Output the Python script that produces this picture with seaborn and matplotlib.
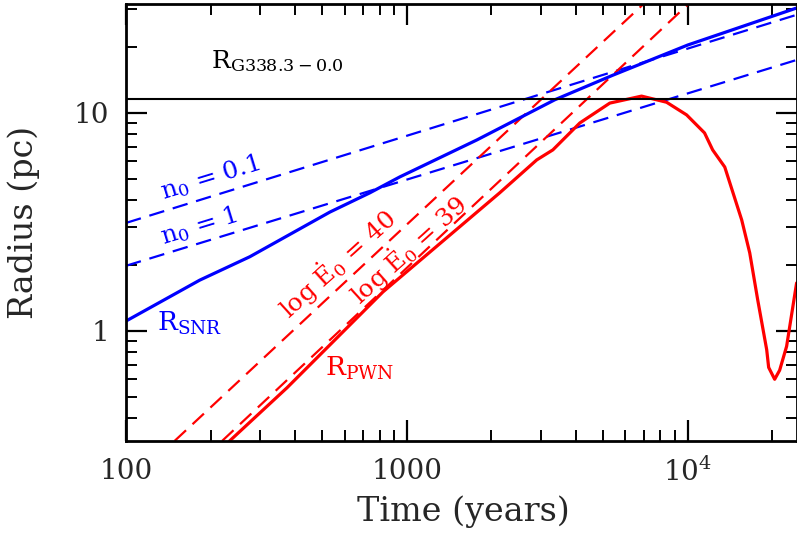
import matplotlib
matplotlib.use("Agg")
import matplotlib.pyplot as plt
import matplotlib.ticker as mticker
import numpy as np
import pandas as pd
import seaborn as sns

# SNR radius (solid blue)
snr_t = [100, 183, 276, 532, 738, 944, 1775, 3365, 5410, 10000, 24400]
snr_r = [1.11, 1.71, 2.19, 3.51, 4.30, 5.09, 7.52, 11.5, 14.9, 20.5, 30.3]

# Sedov-like power laws (dashed blue), read at both ends
n01_t = [100, 24400]
n01_r = [3.13, 28.2]
n1_t = [100, 24400]
n1_r = [1.99, 17.5]

# PWN radius (solid red)
pwn_t = [234, 374, 822, 2140, 2900, 3310, 4130, 5280, 6850, 8410, 9910, 11480,
         12270, 13550, 15570, 16630, 17750, 19110, 19420, 20400, 21250, 22500, 24420]
pwn_r = [0.313, 0.548, 1.51, 4.30, 6.09, 6.77, 9.0, 11.1, 11.95, 11.2, 9.8, 8.1,
         6.77, 5.65, 3.23, 2.28, 1.39, 0.82, 0.68, 0.60, 0.66, 0.85, 1.66]

# free-expansion PWN power laws (dashed red)
e40_t = [149, 7030]
e40_r = [0.313, 32.0]
e39_t = [220, 10160]
e39_r = [0.313, 32.0]

r_obs = 11.6

BLUE = "#0000ff"
RED = "#ff0000"
H = 544

sns.set_style("ticks")
plt.rcParams["font.family"] = ["DejaVu Serif", "DejaVu Sans"]
plt.rcParams["mathtext.fontset"] = "dejavuserif"

fig = plt.figure(figsize=(7.97, 5.44), dpi=100)
ax = fig.add_axes([126 / 797, 103 / 544, 671 / 797, 437 / 544])


def draw(t, r, color, lw, dashed=False):
    df = pd.DataFrame({"t": t, "r": r})
    sns.lineplot(data=df, x="t", y="r", color=color, lw=lw, ax=ax,
                 estimator=None, sort=False)
    if dashed:
        ax.lines[-1].set_dashes((7, 4))


draw(n01_t, n01_r, BLUE, 1.6, dashed=True)
draw(n1_t, n1_r, BLUE, 1.6, dashed=True)
draw(e40_t, e40_r, RED, 1.6, dashed=True)
draw(e39_t, e39_r, RED, 1.6, dashed=True)
draw(snr_t, snr_r, BLUE, 2.3)
draw(pwn_t, pwn_r, RED, 2.3)
ax.axhline(r_obs, color="black", lw=1.5)

ax.set_xscale("log")
ax.set_yscale("log")
ax.set_xlim(100, 24500)
ax.set_ylim(10 ** -0.505, 10 ** 1.5)

ax.xaxis.set_major_locator(mticker.FixedLocator([100, 1000, 10000]))
ax.xaxis.set_major_formatter(mticker.FixedFormatter(["100", "1000", r"$10^4$"]))
ax.xaxis.set_minor_locator(mticker.LogLocator(base=10, subs=np.arange(2, 10)))
ax.xaxis.set_minor_formatter(mticker.NullFormatter())
ax.yaxis.set_major_locator(mticker.FixedLocator([1, 10]))
ax.yaxis.set_major_formatter(mticker.FixedFormatter(["1", "10"]))
ax.yaxis.set_minor_locator(mticker.LogLocator(base=10, subs=np.arange(2, 10)))
ax.yaxis.set_minor_formatter(mticker.NullFormatter())

ax.tick_params(which="both", direction="in", top=True, right=True, color="black")
ax.tick_params(which="major", length=15, width=1.6, labelsize=20, pad=12)
ax.tick_params(which="minor", length=8, width=1.4)
for s in ax.spines.values():
    s.set_linewidth(2)
    s.set_color("black")

ax.set_xlabel("Time (years)", fontsize=24)
ax.set_ylabel("Radius (pc)", fontsize=24)
ax.xaxis.set_label_coords(0.503, -0.125)
ax.yaxis.set_label_coords(-0.128, 0.5)

ax.text(0.127, 0.87, r"R$_{\rm G338.3-0.0}$", transform=ax.transAxes,
        fontsize=18, color="black", ha="left", va="center")
ax.text(0.046, 0.27, r"R$_{\rm SNR}$", transform=ax.transAxes,
        fontsize=19, color=BLUE, ha="left", va="center")
ax.text(0.297, 0.165, r"R$_{\rm PWN}$", transform=ax.transAxes,
        fontsize=19, color=RED, ha="left", va="center")

ax.text(210, H - 178, r"n$_0$ = 0.1", transform=None, fontsize=18, color=BLUE,
        ha="center", va="center", rotation=17, rotation_mode="anchor")
ax.text(199, H - 226, r"n$_0$ = 1", transform=None, fontsize=18, color=BLUE,
        ha="center", va="center", rotation=17, rotation_mode="anchor")
ax.text(337, H - 264, r"log $\dot{\rm E}_0$ = 40", transform=None, fontsize=18,
        color=RED, ha="center", va="center", rotation=42, rotation_mode="anchor")
ax.text(408, H - 250, r"log $\dot{\rm E}_0$ = 39", transform=None, fontsize=18,
        color=RED, ha="center", va="center", rotation=42, rotation_mode="anchor")

fig.savefig("out.png", dpi=100)
